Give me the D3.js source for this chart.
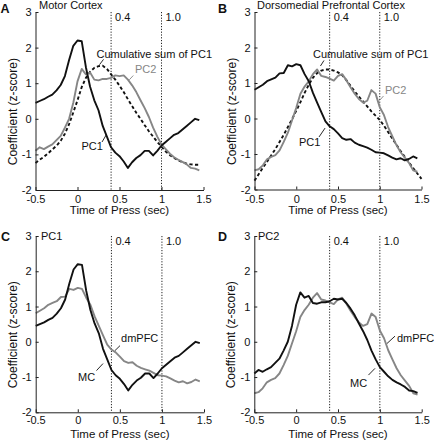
<!DOCTYPE html>
<html><head><meta charset="utf-8">
<script src="https://cdn.jsdelivr.net/npm/d3@7/dist/d3.min.js"></script>
<style>
body{margin:0;background:#fff}
svg text{font-family:Arial,"Liberation Sans",Helvetica,sans-serif;fill:#111}
</style>
</head><body>
<svg id="chart" width="434" height="440"></svg>
<script>
// ---- data ----
const times = [-0.5,-0.45,-0.4,-0.35,-0.3,-0.25,-0.2,-0.15,-0.1,-0.05,0,0.05,0.1,0.15,0.2,0.25,0.3,0.35,0.4,0.45,0.5,0.55,0.6,0.65,0.7,0.75,0.8,0.85,0.9,0.95,1,1.05,1.1,1.15,1.2,1.25,1.3,1.35,1.4,1.45,1.5];
// Motor cortex
const mcPC1 = [0.45,0.5,0.55,0.62,0.68,0.8,0.95,1.2,1.65,2.05,2.2,2.18,1.45,0.9,0.52,0.24,-0.2,-0.5,-0.8,-0.95,-1.05,-1.2,-1.38,-1.22,-1.1,-1.02,-0.9,-0.9,-1.03,-0.9,-0.75,-0.65,-0.55,-0.45,-0.4,-0.3,-0.2,-0.1,0.0,-0.04];
const mcPC2 = [-0.9,-0.8,-0.85,-0.78,-0.72,-0.6,-0.48,-0.25,0.0,0.45,1.05,1.4,1.25,1.3,1.1,1.08,1.12,1.12,1.15,1.22,1.2,1.22,1.1,0.94,0.75,0.52,0.3,0.05,-0.25,-0.5,-0.72,-0.85,-0.98,-1.08,-1.15,-1.21,-1.28,-1.38,-1.4,-1.45];
const mcCumPC1 = [-1.24,-1.15,-1.07,-0.97,-0.86,-0.76,-0.62,-0.42,-0.15,0.18,0.52,0.89,1.15,1.32,1.43,1.48,1.49,1.4,1.25,1.1,0.93,0.75,0.55,0.36,0.17,0.0,-0.18,-0.35,-0.5,-0.65,-0.78,-0.92,-1.02,-1.1,-1.17,-1.22,-1.26,-1.28,-1.29,-1.29];
// Dorsomedial prefrontal cortex
const dmPC1 = [0.81,0.88,0.95,1.05,1.1,1.15,1.27,1.28,1.5,1.47,1.53,1.5,1.25,1.05,0.72,0.45,0.18,-0.08,-0.22,-0.3,-0.42,-0.55,-0.6,-0.58,-0.68,-0.74,-0.78,-0.82,-0.88,-0.95,-0.96,-0.98,-1.04,-1.1,-1.15,-1.12,-1.18,-1.14,-1.07,-1.12];
const dmPC2 = [-1.46,-1.43,-1.32,-1.15,-1.08,-1.03,-0.9,-0.66,-0.4,-0.05,0.3,0.7,0.9,1.05,1.25,1.38,1.2,1.17,1.12,1.07,1.2,1.25,1.08,0.88,0.7,0.55,0.45,0.5,0.8,0.7,0.32,0.1,-0.24,-0.5,-0.75,-0.95,-1.1,-1.25,-1.46,-1.5];
const dmCumPC1 = [-1.75,-1.57,-1.39,-1.22,-1.04,-0.86,-0.66,-0.46,-0.24,-0.02,0.22,0.46,0.72,0.95,1.15,1.28,1.35,1.38,1.38,1.35,1.3,1.22,1.08,0.92,0.76,0.62,0.48,0.34,0.2,0.08,-0.04,-0.2,-0.38,-0.56,-0.74,-0.92,-1.08,-1.24,-1.4,-1.55,-1.7];
// ticks / markers
const xTicks = [-0.5,0,0.5,1,1.5];
const xTickLabels = ["-0.5","0","0.5","1","1.5"];
const yTicks = [-2,-1,0,1,2,3];
const yTickLabels = ["-2","-1","0","1","2","3"];
const markerTimes = [0.4,1.0];
const markerLabels = ["0.4","1.0"];
const panelLetters = ["A","B","C","D"];
const panelTitles = ["Motor Cortex","Dorsomedial Prefrontal Cortex","PC1","PC2"];
const xLabel = "Time of Press (sec)";
const yLabel = "Coefficient (z-score)";

const BLACK = "#111", GRAY = "#868686";

// ---- layout ----
const panels = [
  {x0:35.5,x1:203.5,yT:12,yB:190, letterXY:[0.5,12.5], titleXY:[39,8.5], xLabY:214, tickPad:5.5,
   series:[{v:mcCumPC1,c:BLACK,dash:"3.2,2.4"},{v:mcPC2,c:GRAY},{v:mcPC1,c:BLACK}],
   notes:[{text:"Cumulative sum of PC1",c:BLACK,at:[0.226,1.72],lead:[0.31,1.67,0.262,1.52]},
          {text:"PC2",c:GRAY,at:[0.685,1.28],lead:[0.664,1.216,0.617,1.096]},
          {text:"PC1",c:BLACK,at:[0.048,-0.89],lead:[0.292,-0.652,0.345,-0.441]}]},
  {x0:254.5,x1:421.5,yT:12,yB:189.5, letterXY:[218,12.5], titleXY:[257,8.5], xLabY:214, tickPad:5.5,
   series:[{v:dmCumPC1,c:BLACK,dash:"3.2,2.4"},{v:dmPC2,c:GRAY},{v:dmPC1,c:BLACK}],
   notes:[{text:"Cumulative sum of PC1",c:BLACK,at:[0.2,1.70],lead:[0.332,1.634,0.29,1.479]},
          {text:"PC2",c:GRAY,at:[1.063,0.69],lead:[1.045,0.634,0.997,0.507]},
          {text:"PC1",c:BLACK,at:[0.033,-0.78],lead:[0.273,-0.52,0.345,-0.27]}]},
  {x0:35.7,x1:204,yT:236,yB:412.3, letterXY:[1,241], titleXY:[41,240], xLabY:437.5, tickPad:4,
   series:[{v:dmPC1,c:GRAY},{v:mcPC1,c:BLACK}],
   notes:[{text:"dmPFC",c:BLACK,at:[0.514,-0.01],lead:[0.502,-0.109,0.442,-0.25]},
          {text:"MC",c:BLACK,at:[0.003,-1.114],lead:[0.2225,-0.817,0.30,-0.618]}]},
  {x0:254.3,x1:421.7,yT:236,yB:412.3, letterXY:[218,241], titleXY:[258,240], xLabY:437.5, tickPad:4,
   series:[{v:dmPC2,c:GRAY},{v:mcPC2,c:BLACK}],
   notes:[{text:"dmPFC",c:BLACK,at:[1.205,-0.01],lead:[1.181,0.16,1.085,-0.05]},
          {text:"MC",c:BLACK,at:[0.643,-1.275],lead:[0.864,-0.944,0.942,-0.754]}]}
];

const svg = d3.select("#chart");

panels.forEach((p, pi) => {
  const x = d3.scaleLinear().domain([-0.5,1.5]).range([p.x0,p.x1]);
  const y = d3.scaleLinear().domain([-2,3]).range([p.yB,p.yT]);
  const g = svg.append("g");

  // marker dotted lines
  markerTimes.forEach((t,i) => {
    g.append("line").attr("x1",x(t)).attr("x2",x(t)).attr("y1",y(3)).attr("y2",y(-2))
      .attr("stroke","#222").attr("stroke-width",1).attr("stroke-dasharray","1.2,1.6");
    g.append("text").attr("x",x(t)+4).attr("y",p.yT+8.5).attr("font-size",11).text(markerLabels[i]);
  });

  // series
  p.series.forEach(s => {
    const line = d3.line().x((d,i)=>x(times[i])).y(d=>y(d));
    g.append("path").datum(s.v).attr("d",line).attr("fill","none")
      .attr("stroke",s.c).attr("stroke-width",1.9)
      .attr("stroke-linejoin","round")
      .attr("stroke-dasharray",s.dash||null);
  });

  // axes
  const ax = d3.axisBottom(x).tickValues(xTicks).tickFormat((d,i)=>xTickLabels[i])
    .tickSizeInner(-3).tickSizeOuter(0).tickPadding(p.tickPad);
  const ay = d3.axisLeft(y).tickValues(yTicks).tickFormat((d,i)=>yTickLabels[i])
    .tickSizeInner(-3).tickSizeOuter(0).tickPadding(4);
  const gx = g.append("g").attr("transform",`translate(0,${p.yB})`).call(ax);
  const gy = g.append("g").attr("transform",`translate(${p.x0},0)`).call(ay);
  [gx,gy].forEach(a=>{
    a.selectAll("path.domain").attr("stroke","#222");
    a.selectAll("line").attr("stroke","#222");
    a.selectAll("text").attr("font-size",11).attr("fill","#111")
      .style("font-family","Arial, 'Liberation Sans', sans-serif");
  });

  // axis labels
  g.append("text").attr("x",(p.x0+p.x1)/2).attr("y",p.xLabY).attr("text-anchor","middle")
    .attr("font-size",11.5).text(xLabel);
  g.append("text").attr("transform",`translate(${p.x0-19},${y(0.2)}) rotate(-90)`)
    .attr("text-anchor","middle").attr("font-size",12).text(yLabel);

  // letter and title
  g.append("text").attr("x",p.letterXY[0]).attr("y",p.letterXY[1]).attr("font-size",12.5)
    .attr("font-weight","bold").text(panelLetters[pi]);
  g.append("text").attr("x",p.titleXY[0]).attr("y",p.titleXY[1]).attr("font-size",11).text(panelTitles[pi]);

  // annotations
  p.notes.forEach(n => {
    g.append("text").attr("x",x(n.at[0])).attr("y",y(n.at[1])).attr("font-size",11)
      .attr("fill",n.c).style("fill",n.c).text(n.text);
    g.append("line").attr("x1",x(n.lead[0])).attr("y1",y(n.lead[1]))
      .attr("x2",x(n.lead[2])).attr("y2",y(n.lead[3])).attr("stroke",n.c).attr("stroke-width",0.9);
  });
});
</script>
</body></html>
